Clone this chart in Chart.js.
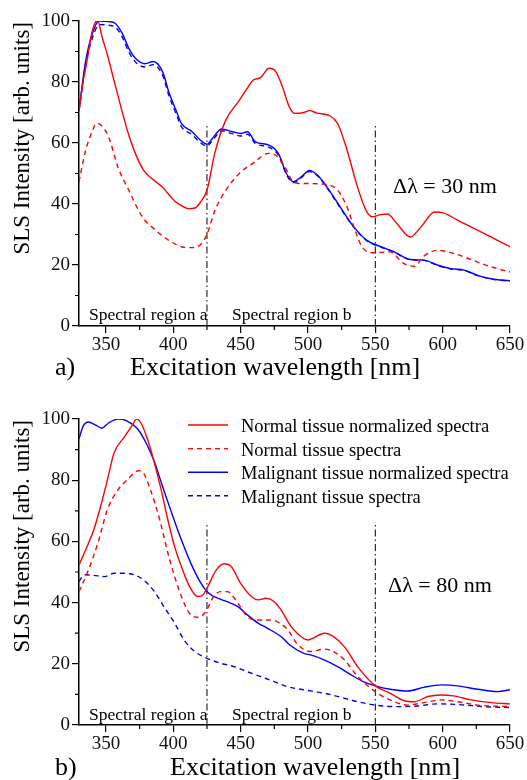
<!DOCTYPE html>
<html>
<head>
<meta charset="utf-8">
<script src="https://cdn.jsdelivr.net/npm/chart.js@4.4.1/dist/chart.umd.min.js"></script>
<style>
  body { margin: 0; background: #fff; }
  canvas { display: block; }
</style>
</head>
<body>
<canvas id="graficoA" width="527" height="390"></canvas>
<canvas id="graficoB" width="527" height="390"></canvas>
<script>
// ---- Painel a) : delta lambda = 30 nm ----
const aNormalNormNm  = [330, 333, 336, 339, 342, 344, 347, 351, 356, 361, 366, 371, 378, 385, 392, 401, 406, 411, 416, 420, 425, 431, 439, 449, 455, 459, 465, 471, 476, 481, 486, 490, 497, 501, 507, 516, 522, 529, 536, 543, 548, 554, 559, 566, 576, 584, 594, 601, 611, 621, 631, 641, 650];
const aNormalNormVal = [70.5, 80, 87, 95, 99.5, 100, 95, 89, 80.5, 72, 64, 57.5, 51, 48, 45.5, 41, 39.5, 38.5, 38.7, 40.5, 44.5, 57, 67.5, 74, 78, 80.5, 81.5, 84.5, 83.5, 78.5, 72, 69.7, 70, 70.6, 69.8, 69, 66.4, 57.7, 46.7, 38, 35.8, 36.5, 36.7, 33.6, 29.2, 32.5, 37.4, 37, 34.7, 32.5, 30.3, 28, 26];

const aNormalNm  = [330, 335, 340, 343, 346, 352, 359, 367, 377, 387, 397, 406, 414, 421, 425, 431, 439, 449, 459, 471, 476, 483, 489, 495, 500, 512, 522, 529, 535, 540, 549, 561, 571, 579, 586, 596, 609, 621, 636, 650];
const aNormalVal = [47.3, 57.7, 64, 66.4, 66, 62, 52, 44.5, 35.8, 31.4, 28, 26, 25.7, 27, 30, 38, 44.5, 50, 53.3, 56.6, 56, 52, 47.3, 46.7, 46.7, 46.5, 44.5, 39, 31.4, 26, 24, 24.3, 20.5, 19.6, 22.9, 24.8, 23.7, 21.8, 19.4, 17.7];

const aMalignNormNm  = [330, 335, 340, 345, 352, 357, 362, 367, 372, 379, 385, 392, 397, 402, 406, 414, 420, 425, 429, 436, 444, 450, 455, 461, 471, 478, 484, 489, 495, 501, 507, 514, 524, 534, 544, 554, 564, 576, 586, 596, 606, 616, 626, 636, 650];
const aMalignNormVal = [70.8, 87, 96, 100, 99.8, 99.2, 96, 91, 87.7, 86, 86.7, 83.4, 76.3, 70.8, 66.4, 63.7, 61, 59.6, 61.5, 64.6, 63.7, 63.1, 63.7, 60.4, 59.3, 56.6, 50, 47.3, 48.9, 51, 49.5, 45.6, 39, 32.5, 28, 26, 24.3, 21.8, 21.6, 20, 18.8, 18.3, 16.6, 15.5, 14.8];

const aMalignNm  = aMalignNormNm;
const aMalignVal = [70.5, 86, 94.5, 98.8, 98.6, 98, 94.8, 89.8, 86.5, 84.9, 85.7, 82.3, 75.2, 69.7, 65.4, 62.7, 60.2, 59, 60.8, 64, 63, 62.3, 62.9, 59.8, 58.6, 56, 49.7, 47, 48.6, 50.6, 49.3, 45.4, 38.7, 32.4, 27.9, 25.9, 24.2, 21.7, 21.5, 19.9, 18.7, 18.2, 16.5, 15.4, 14.7];

// ---- Painel b) : delta lambda = 80 nm ----
const bNormalNormNm  = [330, 336, 341, 346, 351, 356, 364, 369, 373, 376, 381, 386, 391, 396, 401, 406, 412, 418, 422, 425, 432, 438, 443, 450, 458, 463, 469, 475, 480, 487, 492, 500, 504, 512, 519, 527, 537, 550, 561, 571, 579, 589, 599, 608, 621, 636, 650];
const bNormalNormVal = [52.3, 58.3, 63.8, 71.4, 80, 88.9, 94.3, 97.6, 100, 98.7, 93.2, 85.6, 76.9, 67, 58.3, 51.8, 45.3, 42, 42.5, 44.7, 50.7, 52.7, 51.8, 46.3, 42, 40.9, 41.4, 40.3, 37.6, 32.5, 30, 27.8, 28.4, 30, 28.9, 25.6, 19, 12.8, 10.4, 8, 7.6, 9.3, 9.8, 9.5, 8.2, 7.3, 6.9];

const bNormalNm  = [330, 336, 344, 351, 359, 366, 374, 378, 383, 390, 396, 401, 406, 412, 419, 424, 430, 435, 440, 448, 455, 463, 470, 477, 485, 492, 502, 512, 519, 527, 537, 550, 561, 574, 586, 599, 611, 626, 650];
const bNormalVal = [43.6, 49.6, 59.4, 70.3, 76.9, 80.2, 83.1, 82.3, 76.9, 67, 56.2, 48.5, 42, 36.5, 35.2, 37, 42, 43.6, 43.6, 39.8, 35.4, 34.3, 34.3, 33.8, 31.1, 26.5, 24, 24.8, 24, 21.3, 15.8, 10.9, 8.2, 6.5, 7.3, 8.2, 7.6, 6.5, 6];

const bMalignNormNm  = [330, 333, 337, 342, 347, 352, 359, 365, 374, 380, 386, 392, 398, 406, 413, 419, 425, 430, 440, 448, 455, 463, 470, 480, 487, 497, 502, 512, 522, 532, 541, 550, 561, 574, 586, 599, 611, 626, 641, 650];
const bMalignNormVal = [93.5, 97.6, 99, 98.1, 97, 98.7, 100, 99.5, 96.5, 92, 86, 78, 70.3, 60.5, 52.9, 47.5, 43.6, 42, 40.3, 38.7, 36, 33.3, 31.6, 28.9, 26, 23.4, 22.9, 21.3, 19.1, 16.4, 14.2, 12.8, 11.7, 11.1, 12.3, 13.1, 12.8, 11.7, 10.9, 11.5];

const bMalignNm  = [330, 334, 341, 349, 356, 364, 371, 378, 386, 393, 401, 408, 416, 425, 435, 445, 455, 465, 475, 485, 497, 512, 524, 537, 550, 566, 581, 596, 611, 631, 650];
const bMalignVal = [46.9, 49.1, 48.9, 48.5, 49.6, 49.6, 49.1, 47.4, 43.6, 38.7, 33.3, 27.8, 24, 21.8, 20.2, 19.1, 17.4, 15.8, 14.2, 12.5, 11.5, 10.4, 9.1, 7.6, 6.5, 6, 6.2, 6.9, 6.7, 6, 5.7];

// Eixos, regioes espectrais e legenda
const xTicks = [350, 400, 450, 500, 550, 600, 650];
const xMinorTicks = [375, 425, 475, 525, 575, 625];
const yTicks = [0, 20, 40, 60, 80, 100];
const yMinorTicks = [10, 30, 50, 70, 90];
const regionBounds = [425, 550];
const regionTop = 66;
const legendLabels = [
    'Normal tissue normalized spectra',
    'Normal tissue spectra',
    'Malignant tissue normalized spectra',
    'Malignant tissue spectra'
];

const SERIF = '"Liberation Serif", "Times New Roman", serif';
const ESTILOS = [
    { cor: '#ff0000', dash: [] },
    { cor: '#ff0000', dash: [5, 4] },
    { cor: '#0000ff', dash: [] },
    { cor: '#0000ff', dash: [5, 4] }
];

const pontos = (xs, ys) => xs.map((x, i) => ({ x: x, y: ys[i] }));

function criarDatasets(series) {
    const ds = series.map((s, i) => ({
        label: legendLabels[i],
        data: pontos(s[0], s[1]),
        borderColor: ESTILOS[i].cor,
        borderDash: ESTILOS[i].dash,
        borderWidth: 1.4,
        pointRadius: 0,
        cubicInterpolationMode: 'monotone',
        fill: false
    }));
    // linhas tracejadas das regioes espectrais
    regionBounds.forEach(x => {
        ds.push({
            label: '',
            data: [{ x: x, y: 0 }, { x: x, y: regionTop }],
            borderColor: '#000',
            borderWidth: 1,
            borderDash: [7, 3, 1.5, 3],
            pointRadius: 0
        });
    });
    return ds;
}

// Textos, ticks menores e legenda desenhados por cima do grafico
function pluginAnotacoes(cfg) {
    return {
        id: 'anotacoes',
        afterDraw(chart) {
            const ctx = chart.ctx;
            const area = chart.chartArea;
            const sx = chart.scales.x, sy = chart.scales.y;
            ctx.save();
            ctx.strokeStyle = '#000';
            ctx.fillStyle = '#000';
            ctx.lineWidth = 1.2;
            ctx.setLineDash([]);
            ctx.beginPath();
            xMinorTicks.forEach(v => {
                const px = sx.getPixelForValue(v);
                ctx.moveTo(px, area.bottom);
                ctx.lineTo(px, area.bottom + 4);
            });
            yMinorTicks.forEach(v => {
                const py = sy.getPixelForValue(v);
                ctx.moveTo(area.left, py);
                ctx.lineTo(area.left - 4, py);
            });
            ctx.stroke();

            ctx.textAlign = 'left';
            ctx.textBaseline = 'alphabetic';
            ctx.font = `17.5px ${SERIF}`;
            ctx.fillText('Spectral region a', 89, cfg.regiaoY);
            ctx.fillText('Spectral region b', 232, cfg.regiaoY);

            ctx.font = `22px ${SERIF}`;
            ctx.fillText(cfg.delta, cfg.deltaX, cfg.deltaY);

            ctx.font = `26px ${SERIF}`;
            ctx.fillText(cfg.painel, 55, cfg.tituloY);
            ctx.fillText('Excitation wavelength [nm]', cfg.tituloX, cfg.tituloY);

            // titulo do eixo y (rotacionado)
            ctx.save();
            ctx.translate(23, cfg.eixoYTopo);
            ctx.rotate(-Math.PI / 2);
            ctx.textAlign = 'right';
            ctx.textBaseline = 'middle';
            ctx.font = `23px ${SERIF}`;
            ctx.fillText('SLS Intensity [arb. units]', 0, 0);
            ctx.restore();

            if (cfg.legenda) {
                ctx.font = `18.5px ${SERIF}`;
                ctx.lineWidth = 1.4;
                legendLabels.forEach((txt, i) => {
                    const y = 35 + i * 23.6;
                    ctx.strokeStyle = ESTILOS[i].cor;
                    ctx.setLineDash(ESTILOS[i].dash);
                    ctx.beginPath();
                    ctx.moveTo(188, y);
                    ctx.lineTo(228, y);
                    ctx.stroke();
                    ctx.fillStyle = '#000';
                    ctx.fillText(txt, 241, y + 7);
                });
            }
            ctx.restore();
        }
    };
}

function criarGrafico(id, series, cfg) {
    const ctx = document.getElementById(id).getContext('2d');
    return new Chart(ctx, {
        type: 'line',
        data: { datasets: criarDatasets(series) },
        options: {
            responsive: false,
            animation: false,
            layout: { padding: { top: cfg.padTopo, right: 17, left: 0, bottom: 0 } },
            plugins: {
                legend: { display: false },
                tooltip: { enabled: false }
            },
            scales: {
                x: {
                    type: 'linear',
                    min: 330,
                    max: 650,
                    afterBuildTicks: scale => { scale.ticks = xTicks.map(v => ({ value: v })); },
                    afterFit: scale => { scale.height = cfg.alturaX; },
                    grid: { drawOnChartArea: false, drawTicks: true, tickLength: 7, color: '#000', lineWidth: 1.2 },
                    border: { display: true, color: '#000', width: 1.5 },
                    ticks: { color: '#111', padding: 1, maxRotation: 0, font: { family: SERIF, size: 19 } }
                },
                y: {
                    type: 'linear',
                    min: 0,
                    max: 100,
                    afterBuildTicks: scale => { scale.ticks = yTicks.map(v => ({ value: v })); },
                    afterFit: scale => { scale.width = 79; },
                    grid: { drawOnChartArea: false, drawTicks: true, tickLength: 7, color: '#000', lineWidth: 1.2 },
                    border: { display: true, color: '#000', width: 1.5 },
                    ticks: { color: '#111', padding: 2, font: { family: SERIF, size: 19 } }
                }
            }
        },
        plugins: [pluginAnotacoes(cfg)]
    });
}

document.addEventListener('DOMContentLoaded', () => {
    criarGrafico('graficoA', [
        [aNormalNormNm, aNormalNormVal],
        [aNormalNm, aNormalVal],
        [aMalignNormNm, aMalignNormVal],
        [aMalignNm, aMalignVal]
    ], {
        padTopo: 21, alturaX: 64, painel: 'a)', delta: '\u0394\u03bb = 30 nm',
        deltaX: 393, deltaY: 193, regiaoY: 320, tituloX: 130, tituloY: 375,
        eixoYTopo: 22, legenda: false
    });

    criarGrafico('graficoB', [
        [bNormalNormNm, bNormalNormVal],
        [bNormalNm, bNormalVal],
        [bMalignNormNm, bMalignNormVal],
        [bMalignNm, bMalignVal]
    ], {
        padTopo: 29, alturaX: 55, painel: 'b)', delta: '\u0394\u03bb = 80 nm',
        deltaX: 388, deltaY: 202, regiaoY: 330, tituloX: 170, tituloY: 385,
        eixoYTopo: 30, legenda: true
    });
});
</script>
</body>
</html>
